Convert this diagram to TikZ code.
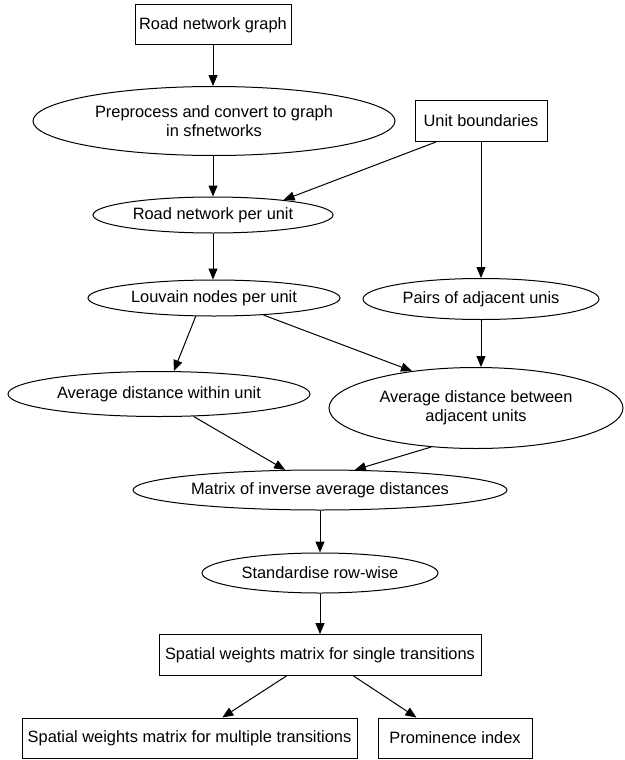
\documentclass[tikz,border=0pt]{standalone}
\usepackage{fontspec}
\setmainfont{Liberation Sans}
\usetikzlibrary{shapes.geometric,arrows.meta}
\begin{document}
\begin{tikzpicture}[x=1pt,y=-1pt,
  every node/.style={font=\fontsize{16.4}{19.5}\selectfont, align=center, inner sep=0pt, line width=1pt, draw},
  boxnode/.style={rectangle},
  ellnode/.style={ellipse},
  conn/.style={line width=1pt, -{Triangle[length=11pt,width=9pt]}}]
\useasboundingbox (0,0) rectangle (624,760);
\node[boxnode, minimum width=156, minimum height=40] (rng) at (213,25) {Road network graph};
\node[ellnode, minimum width=362, minimum height=69] (pp) at (214,121) {Preprocess and convert to graph\\in sfnetworks};
\node[boxnode, minimum width=132, minimum height=41] (ub) at (481,121) {Unit boundaries};
\node[ellnode, minimum width=240, minimum height=36] (rnu) at (213,215) {Road network per unit};
\node[ellnode, minimum width=252, minimum height=36] (lv) at (214,298) {Louvain nodes per unit};
\node[ellnode, minimum width=236, minimum height=41] (pau) at (481,299) {Pairs of adjacent unis};
\node[ellnode, minimum width=302, minimum height=45] (win) at (159,394) {Average distance within unit};
\node[ellnode, minimum width=294, minimum height=81] (btw) at (476,408) {Average distance between\\adjacent units};
\node[ellnode, minimum width=374, minimum height=40] (mat) at (320,490) {Matrix of inverse average distances};
\node[ellnode, minimum width=236, minimum height=40] (std) at (320,573) {Standardise row-wise};
\node[boxnode, minimum width=322, minimum height=41] (sws) at (320,655) {Spatial weights matrix for single transitions};
\node[boxnode, minimum width=335, minimum height=40] (swm) at (189.5,738) {Spatial weights matrix for multiple transitions};
\node[boxnode, minimum width=154, minimum height=40] (pi) at (455,738) {Prominence index};
\draw[conn] (rng.south) -- (rng.south |- pp.north);
\draw[conn] (rnu.north |- pp.south) -- (rnu.north);
\draw[conn] (ub.205) -- (rnu.12);
\draw[conn] (rnu.south) -- (lv.north -| rnu.south);
\draw[conn] (ub.south) -- (pau.north -| ub.south);
\draw[conn] (lv.225) -- (win.57);
\draw[conn] (lv.-19) -- (btw.150);
\draw[conn] (pau.south) -- (pau.south |- btw.north);
\draw[conn] (win.-33) -- (mat.150);
\draw[conn] (btw.221) -- (mat.30);
\draw[conn] (mat.south) -- (std.north);
\draw[conn] (std.south) -- (sws.north);
\draw[conn] (sws.212) -- (swm.32);
\draw[conn] (sws.-32) -- (pi.152);
\end{tikzpicture}
\end{document}
